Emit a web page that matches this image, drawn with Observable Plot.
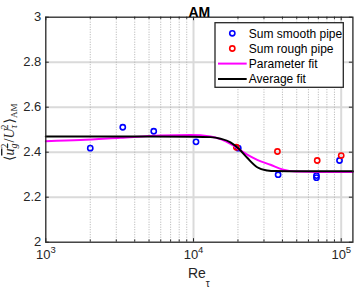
<!DOCTYPE html>
<html><head><meta charset="utf-8">
<script src="https://cdn.jsdelivr.net/npm/d3@7"></script>
<script src="https://cdn.jsdelivr.net/npm/@observablehq/plot@0.6"></script>
<style>body{margin:0;background:#fff}svg{display:block}</style>
</head><body><div id="chart"></div>
<script>
// ---- data ----
const smoothRe  = [2000, 3320, 5380, 10400, 20100, 37400, 68000, 68000, 97400];
const smoothVal = [2.418, 2.511, 2.493, 2.446, 2.418, 2.300, 2.296, 2.287, 2.363];
const roughRe   = [19500, 37000, 68800, 100000];
const roughVal  = [2.422, 2.403, 2.363, 2.385];
const paramRe   = [1000, 1718, 3205, 5983, 9555, 13030, 15240, 17800, 20810, 23100, 27000, 33200, 40600, 49000, 70000, 120000];
const paramVal  = [2.449, 2.454, 2.464, 2.474, 2.476, 2.470, 2.458, 2.437, 2.408, 2.389, 2.366, 2.344, 2.322, 2.314, 2.312, 2.312];
const avgRe     = [1000, 5000, 10000, 13030, 15240, 17800, 20260, 23100, 27000, 31550, 35900, 50000, 120000];
const avgVal    = [2.470, 2.470, 2.469, 2.467, 2.460, 2.444, 2.415, 2.375, 2.333, 2.319, 2.316, 2.3155, 2.3155];
const xMajor = [1e3, 1e4, 1e5];
const xMinor = [2e3,3e3,4e3,5e3,6e3,7e3,8e3,9e3,2e4,3e4,4e4,5e4,6e4,7e4,8e4,9e4];
const yTicks = [2, 2.2, 2.4, 2.6, 2.8, 3];
const yTickLabels = ["2", "2.2", "2.4", "2.6", "2.8", "3"];
const yGrid = [2.2, 2.4, 2.6, 2.8];
const titleText = "AM";
const xLabel = "Re";
const xLabelSub = "τ";
const legendLabels = ["Sum smooth pipe", "Sum rough pipe", "Parameter fit", "Average fit"];
const legendColors = ["#0000ff", "#ff0000", "#ff00ff", "#000000"];

const smooth = smoothRe.map((r, i) => ({r, v: smoothVal[i]}));
const rough = roughRe.map((r, i) => ({r, v: roughVal[i]}));
const param = paramRe.map((r, i) => ({r, v: paramVal[i]}));
const avg = avgRe.map((r, i) => ({r, v: avgVal[i]}));

const W = 354, H = 290, mL = 45.3, mR = 1.6, mT = 16.7, mB = 48.3;
const innerH = H - mT - mB;
const axisColor = "#262626";

const chart = Plot.plot({
  width: W, height: H,
  marginLeft: mL, marginRight: mR, marginTop: mT, marginBottom: mB,
  style: {fontFamily: "'Liberation Sans', Arial, sans-serif", fontSize: "13px", color: axisColor, background: "#fff"},
  x: {type: "log", domain: [1e3, 1.2e5], axis: null},
  y: {domain: [2, 3], axis: null},
  marks: [
    Plot.ruleY(yGrid, {y: d => d, stroke: "#dadada", strokeWidth: 2}),
    Plot.ruleX(xMinor, {x: d => d, stroke: "#b0b0b0", strokeWidth: 1, strokeDasharray: "1,1.5"}),
    Plot.ruleX(xMajor.slice(1), {x: d => d, stroke: "#dadada", strokeWidth: 2}),
    Plot.dot(smooth, {x: "r", y: "v", r: 2.6, stroke: "#0000ff", strokeWidth: 1.6, fill: "none"}),
    Plot.dot(rough, {x: "r", y: "v", r: 2.6, stroke: "#ff0000", strokeWidth: 1.6, fill: "none"}),
    Plot.line(param, {x: "r", y: "v", stroke: "#ff00ff", strokeWidth: 2, curve: "monotone-x"}),
    Plot.line(avg, {x: "r", y: "v", stroke: "#000000", strokeWidth: 2, curve: "monotone-x"}),
    // inward ticks
    Plot.tickX(xMajor, {x: d => d, insetTop: innerH - 3.5, stroke: axisColor}),
    Plot.tickX(xMajor, {x: d => d, insetBottom: innerH - 3.5, stroke: axisColor}),
    Plot.tickX(xMinor, {x: d => d, insetTop: innerH - 2.2, stroke: axisColor}),
    Plot.tickX(xMinor, {x: d => d, insetBottom: innerH - 2.2, stroke: axisColor}),
    Plot.tickY(yTicks, {y: d => d, insetRight: W - mL - mR - 3.5, stroke: axisColor}),
    Plot.tickY(yTicks, {y: d => d, insetLeft: W - mL - mR - 3.5, stroke: axisColor}),
    Plot.frame({stroke: axisColor, strokeWidth: 1.3}),
    // y tick labels
    Plot.text(yTicks, {y: d => d, frameAnchor: "left", text: (d, i) => yTickLabels[i], textAnchor: "end", dx: -4.5, fontSize: 13, fill: axisColor}),
    // x tick labels 10^n
    Plot.text(xMajor, {x: d => d, frameAnchor: "bottom", text: () => "10", textAnchor: "middle", dx: -2.5, dy: 17, fontSize: 13, fill: axisColor}),
    Plot.text(xMajor, {x: d => d, frameAnchor: "bottom", text: d => String(Math.round(Math.log10(d))), textAnchor: "start", dx: 4.6, dy: 11, fontSize: 9.5, fill: axisColor}),
    // x label
    Plot.text([xLabel], {frameAnchor: "bottom", text: d => d, dx: -2.5, dy: 36, fontSize: 14, fill: axisColor}),
    Plot.text([xLabelSub], {frameAnchor: "bottom", text: d => d, textAnchor: "start", dx: 6.5, dy: 44.5, fontSize: 10, fill: axisColor}),
    // title
    Plot.text([titleText], {frameAnchor: "top", text: d => d, dy: -10, fontSize: 14, fontWeight: "bold", fill: "#000"})
  ]
});
document.getElementById("chart").appendChild(chart);

const svg = d3.select(chart);
// y label (LaTeX-like)
const yl = svg.append("text")
  .attr("transform", `translate(14,${mT + innerH / 2 + 3}) rotate(-90)`)
  .attr("text-anchor", "middle")
  .style("font-family", "'Liberation Serif', 'DejaVu Serif', serif")
  .style("font-size", "14px")
  .attr("fill", axisColor);
yl.append("tspan").text("⟨");
const ov = yl.append("tspan").attr("text-decoration", "overline");
ov.append("tspan").style("font-style", "italic").text("u");
ov.append("tspan").style("font-style", "italic").style("font-size", "10px").attr("dy", 3).text("g");
ov.append("tspan").style("font-size", "10px").attr("dx", -5).attr("dy", -9).text("2");
yl.append("tspan").attr("dy", 6).attr("dx", 1).text("/");
yl.append("tspan").style("font-style", "italic").text("U");
yl.append("tspan").style("font-style", "italic").style("font-size", "10px").attr("dy", 3).text("τ");
yl.append("tspan").style("font-size", "10px").attr("dx", -4.5).attr("dy", -9).text("2");
yl.append("tspan").attr("dy", 6).attr("dx", 1).text("⟩");
yl.append("tspan").style("font-size", "9px").attr("dy", 3).text("AM");

// legend
const lg = svg.append("g").attr("text-anchor", "start");
const lx0 = 215, ly0 = 22.7, lw = 128.3, lh = 64.6;
lg.append("rect").attr("x", lx0).attr("y", ly0).attr("width", lw).attr("height", lh)
  .attr("fill", "#fff").attr("stroke", axisColor).attr("stroke-width", 1.3);
const rowY = [33.3, 48.5, 63.6, 79];
legendLabels.forEach((lab, i) => {
  const y = rowY[i];
  if (i < 2) {
    lg.append("circle").attr("cx", 232.3).attr("cy", y).attr("r", 2.6)
      .attr("fill", "none").attr("stroke", legendColors[i]).attr("stroke-width", 1.6);
  } else {
    lg.append("line").attr("x1", 218).attr("x2", 246.7).attr("y1", y).attr("y2", y)
      .attr("stroke", legendColors[i]).attr("stroke-width", 2);
  }
  lg.append("text").attr("x", 248.8).attr("y", y).attr("dy", "0.35em")
    .attr("text-anchor", "start")
    .style("font-family", "'Liberation Sans', Arial, sans-serif").style("font-size", "12px")
    .attr("fill", "#000").text(lab);
});
</script></body></html>
